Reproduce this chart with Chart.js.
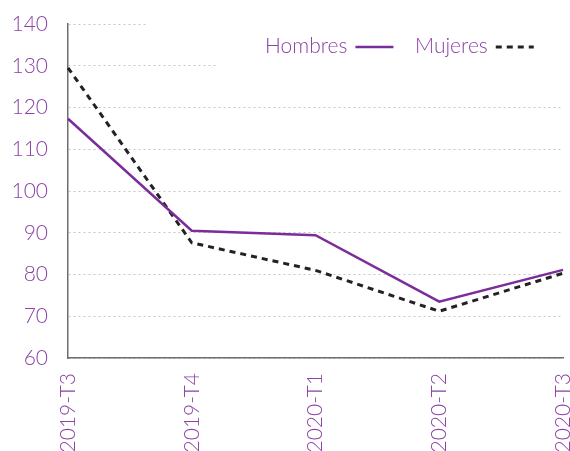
<!DOCTYPE html>
<html>
<head>
<meta charset="utf-8">
<script src="https://cdn.jsdelivr.net/npm/chart.js"></script>
<style>
  html, body { margin: 0; padding: 0; background: #fff; overflow: hidden; }
</style>
</head>
<body>
<canvas id="myChart" width="570" height="451"></canvas>
<script>
// datos
var periodos = ['2019-T3', '2019-T4', '2020-T1', '2020-T2', '2020-T3'];
var hombres = [117.3, 90.5, 89.4, 73.5, 81.1];
var mujeres = [129.5, 87.6, 81.0, 71.2, 80.3];
var yMin = 60, yMax = 140, yPaso = 10;

var morado = '#7b2d9b';
var textoMorado = '#8b43a6';
var fuente = { family: 'Lato', size: 21, weight: '300' };

// leyenda a la derecha del texto + tapa blanca sobre la cuadricula
var leyenda = {
  id: 'leyenda',
  beforeDatasetsDraw: function (chart) {
    var ctx = chart.ctx;
    var y = chart.scales.y;
    var y140 = y.getPixelForValue(140), y130 = y.getPixelForValue(130);
    ctx.save();
    ctx.fillStyle = '#fff';
    ctx.fillRect(148, y140 - 6, 430, 12);
    ctx.fillRect(216, y130 - 6, 360, 12);
    ctx.restore();
  },
  afterDraw: function (chart) {
    var ctx = chart.ctx;
    var items = [
      { x: 265, ds: chart.data.datasets[0] },
      { x: 415, ds: chart.data.datasets[1] }
    ];
    ctx.save();
    ctx.font = fuente.weight + ' ' + fuente.size + 'px ' + fuente.family;
    ctx.textBaseline = 'alphabetic';
    items.forEach(function (it) {
      ctx.fillStyle = textoMorado;
      ctx.fillText(it.ds.label, it.x, 53);
      var w = ctx.measureText(it.ds.label).width;
      ctx.strokeStyle = it.ds.borderColor;
      ctx.lineWidth = it.ds.borderWidth;
      ctx.setLineDash(it.ds.borderDash || []);
      ctx.beginPath();
      ctx.moveTo(it.x + w + 8, 47);
      ctx.lineTo(it.x + w + 46, 47);
      ctx.stroke();
    });
    ctx.restore();
  }
};

var ctx = document.getElementById('myChart').getContext('2d');
var chart = new Chart(ctx, {
  type: 'line',
  data: {
    labels: periodos,
    datasets: [{
      label: 'Hombres',
      data: hombres,
      borderColor: morado,
      borderWidth: 2.5,
      pointRadius: 0,
      tension: 0,
      fill: false
    }, {
      label: 'Mujeres',
      data: mujeres,
      borderColor: '#222',
      borderWidth: 3,
      borderDash: [6, 5],
      pointRadius: 0,
      tension: 0,
      fill: false
    }]
  },
  options: {
    responsive: false,
    animation: false,
    layout: { padding: { top: 24, right: 7, bottom: 0, left: 0 } },
    plugins: {
      legend: { display: false },
      tooltip: { enabled: false }
    },
    scales: {
      x: {
        grid: { display: false },
        border: { display: true, color: '#6e6e6e', width: 1.5 },
        ticks: {
          color: textoMorado,
          font: fuente,
          minRotation: 90,
          maxRotation: 90,
          padding: 7
        },
        afterFit: function (s) {
          s.height = 93;
          s.paddingLeft = 0;
          s.paddingRight = 0;
        }
      },
      y: {
        min: yMin,
        max: yMax,
        grid: { color: '#c6c6c6', lineWidth: 1, drawTicks: false },
        border: { display: true, color: '#6e6e6e', width: 1.5, dash: [2, 3] },
        ticks: {
          stepSize: yPaso,
          color: textoMorado,
          font: fuente,
          padding: 20
        },
        afterFit: function (s) {
          s.width = 68;
          s.paddingTop = 0;
          s.paddingBottom = 0;
        }
      }
    }
  },
  plugins: [leyenda]
});
</script>
</body>
</html>
